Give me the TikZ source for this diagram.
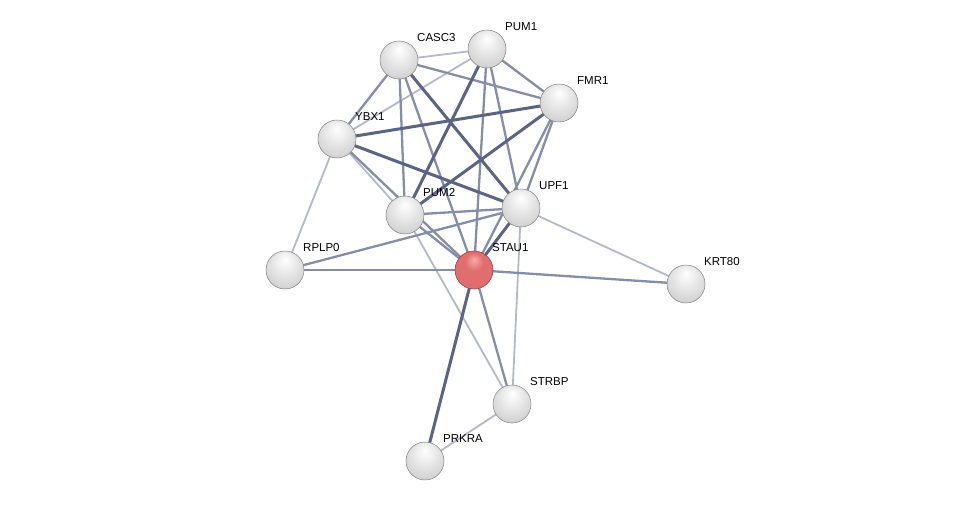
\documentclass[tikz,border=0pt]{standalone}
\usepackage{fontspec}
\setmainfont{Liberation Sans}
\usetikzlibrary{backgrounds}
\definecolor{ewk}{HTML}{B3B8CA}
\definecolor{emd}{HTML}{868DA8}
\definecolor{est}{HTML}{5C6486}
\definecolor{rA}{RGB}{245,170,170}
\definecolor{rB}{RGB}{225,110,110}
\definecolor{rC}{RGB}{195,80,80}
\definecolor{rD}{RGB}{150,55,55}
\pgfdeclareradialshading{stringgray}{\pgfpoint{0bp}{14bp}}{%
  color(0bp)=(white); color(10bp)=(white!94!black); color(30bp)=(white!82!black);
  color(44bp)=(white!70!black); color(50bp)=(white!50!black)}
\pgfdeclareradialshading{stringred}{\pgfpoint{0bp}{14bp}}{%
  color(0bp)=(rA); color(12bp)=(rB); color(36bp)=(rB); color(46bp)=(rC); color(50bp)=(rD)}
\tikzset{
  protein/.style={circle, inner sep=0pt, minimum size=38pt, shading=stringgray, draw=black!50, line width=0.5pt},
  seed/.style={protein, shading=stringred, draw=rD},
  lbl/.style={anchor=west, inner sep=0pt, font=\fontsize{11.5}{13}\selectfont, text=black},
  weak/.style={draw=ewk, line width=1.8pt},
  mid/.style={draw=emd, line width=2.3pt},
  strong/.style={draw=est, line width=3pt},
}
\begin{document}
\begin{tikzpicture}[x=1pt,y=-1pt]
\useasboundingbox (0,0) rectangle (975,506);
\node[protein] (casc3) at (399,60) {};
\node[protein] (pum1) at (487,49) {};
\node[protein] (fmr1) at (559,103) {};
\node[protein] (ybx1) at (337,139) {};
\node[protein] (pum2) at (405,215) {};
\node[protein] (upf1) at (521,208) {};
\node[seed] (stau1) at (474,270) {};
\node[protein] (rplp0) at (285,270) {};
\node[protein] (krt80) at (686,284) {};
\node[protein] (strbp) at (512,404) {};
\node[protein] (prkra) at (425,461) {};
\node[lbl] (lcasc3) at (417,38) {CASC3};
\node[lbl] (lpum1) at (505,27) {PUM1};
\node[lbl] (lfmr1) at (577,81) {FMR1};
\node[lbl] (lybx1) at (355,117) {YBX1};
\node[lbl] (lpum2) at (423,193) {PUM2};
\node[lbl] (lupf1) at (539,186) {UPF1};
\node[lbl] (lstau1) at (492,248) {STAU1};
\node[lbl] (lrplp0) at (303,248) {RPLP0};
\node[lbl] (lkrt80) at (704,262) {KRT80};
\node[lbl] (lstrbp) at (530,382) {STRBP};
\node[lbl] (lprkra) at (443,439) {PRKRA};
\begin{scope}[on background layer]
% weak
\draw[weak] (casc3.center) -- (pum1.center);
\draw[weak] (pum1.center) -- (ybx1.center);
\draw[weak] (ybx1.center) -- (pum2.center);
\draw[weak] (ybx1.center) -- (rplp0.center);
\draw[weak] (pum2.center) -- (strbp.center);
\draw[weak] (upf1.center) -- (krt80.center);
\draw[weak] (upf1.center) -- (strbp.center);
\draw[weak] (strbp.center) -- (prkra.center);
% medium
\draw[mid] (casc3.center) -- (fmr1.center);
\draw[mid] (casc3.center) -- (ybx1.center);
\draw[mid] (casc3.center) -- (pum2.center);
\draw[mid] (casc3.center) -- (stau1.center);
\draw[mid] (pum1.center) -- (fmr1.center);
\draw[mid] (pum1.center) -- (stau1.center);
\draw[mid] (pum1.center) -- (upf1.center);
\draw[mid] (fmr1.center) -- (upf1.center);
\draw[mid] (fmr1.center) -- (stau1.center);
\draw[mid] (ybx1.center) -- (stau1.center);
\draw[mid] (pum2.center) -- (upf1.center);
\draw[mid] (pum2.center) -- (stau1.center);
\draw[mid] (upf1.center) -- (rplp0.center);
\draw[mid] (stau1.center) -- (rplp0.center);
\draw[mid] (stau1.center) -- (krt80.center);
\draw[mid] (stau1.center) -- (strbp.center);
% strong
\draw[strong] (casc3.center) -- (upf1.center);
\draw[strong] (pum1.center) -- (pum2.center);
\draw[strong] (fmr1.center) -- (ybx1.center);
\draw[strong] (fmr1.center) -- (pum2.center);
\draw[strong] (ybx1.center) -- (upf1.center);
\draw[strong] (upf1.center) -- (stau1.center);
\draw[strong] (stau1.center) -- (prkra.center);
\end{scope}
\end{tikzpicture}
\end{document}
